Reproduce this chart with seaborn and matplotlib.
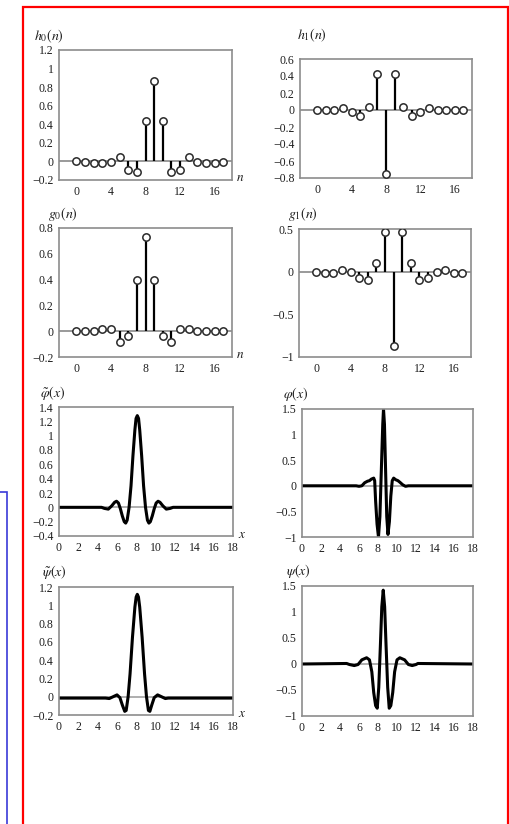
import numpy as np
import pandas as pd
import matplotlib
matplotlib.use("Agg")
import matplotlib.pyplot as plt
from matplotlib.patches import Rectangle
import seaborn as sns

# ---------------- data ----------------
n = list(range(18))
h0 = [0.0, -0.01, -0.02, -0.02, -0.01, 0.05, -0.09, -0.11, 0.44, 0.87,
      0.44, -0.11, -0.09, 0.05, -0.01, -0.02, -0.02, -0.01]
h1 = [0.0, 0.0, 0.0, 0.02, -0.02, -0.07, 0.04, 0.42, -0.75, 0.42,
      0.04, -0.07, -0.02, 0.02, 0.0, 0.0, 0.0, 0.0]
g0 = [0.0, 0.0, 0.0, 0.015, 0.015, -0.08, -0.04, 0.40, 0.73, 0.40,
      -0.04, -0.08, 0.015, 0.015, 0.0, 0.0, 0.0, 0.0]
g1 = [0.0, -0.02, -0.01, 0.02, 0.0, -0.08, -0.10, 0.10, 0.46, -0.87,
      0.46, 0.10, -0.10, -0.08, 0.0, 0.02, -0.01, -0.02]

phit_x = [0, 4.4, 4.7, 5.1, 5.45, 5.75, 5.95, 6.15, 6.35, 6.55, 6.75, 6.9, 7.05, 7.25,
          7.45, 7.65, 7.85, 7.97, 8.1, 8.23, 8.35, 8.55, 8.75, 8.95, 9.15, 9.3, 9.45,
          9.65, 9.85, 10.05, 10.25, 10.45, 10.75, 11.1, 11.5, 11.8, 18]
phit_y = [0, 0, -0.015, -0.025, 0.02, 0.07, 0.085, 0.06, -0.02, -0.12, -0.2, -0.22, -0.18, 0.0,
          0.3, 0.72, 1.08, 1.24, 1.28, 1.24, 1.08, 0.72, 0.3, 0.0, -0.18, -0.22, -0.2,
          -0.12, -0.02, 0.06, 0.085, 0.07, 0.02, -0.025, -0.015, 0, 0]

phi_x = [0, 5.7, 6.0, 6.3, 6.6, 6.9, 7.1, 7.3, 7.55, 7.65, 7.75, 7.9, 8.05, 8.2, 8.35, 8.5,
         8.58, 8.68, 8.8, 8.92, 9.05, 9.2, 9.35, 9.5, 9.65, 9.85, 10.1, 10.3, 10.6, 10.9, 11.2, 18]
phi_y = [0, 0, -0.01, 0.0, 0.06, 0.09, 0.10, 0.13, 0.15, 0.1, -0.3, -0.75, -1.0, -0.6, 0.3, 1.2,
         1.5, 1.2, 0.3, -0.6, -0.95, -0.7, -0.2, 0.1, 0.15, 0.12, 0.10, 0.07, 0.02, -0.01, 0, 0]

psit_x = [0, 4.8, 5.2, 5.6, 6.0, 6.3, 6.55, 6.8, 6.95, 7.15, 7.35, 7.6, 7.85, 7.98, 8.1, 8.22,
          8.35, 8.6, 8.85, 9.05, 9.25, 9.4, 9.6, 9.85, 10.2, 10.6, 11.0, 11.3, 18]
psit_y = [-0.015, -0.015, -0.02, 0.0, 0.02, -0.01, -0.09, -0.16, -0.15, 0.0, 0.25, 0.65, 0.98, 1.09, 1.12, 1.09,
          0.98, 0.65, 0.25, 0.0, -0.15, -0.16, -0.09, -0.01, 0.02, 0.0, -0.02, -0.015, -0.015]

psi_x = [0, 4.7, 5.0, 5.5, 5.9, 6.3, 6.8, 7.1, 7.35, 7.55, 7.75, 7.92, 8.08, 8.25, 8.4, 8.55,
         8.7, 8.85, 9.02, 9.18, 9.35, 9.55, 9.75, 10.0, 10.3, 10.8, 11.2, 11.6, 12.0, 12.2, 18]
psi_y = [0, 0.01, -0.01, -0.03, -0.01, 0.08, 0.12, 0.08, -0.15, -0.55, -0.8, -0.85, -0.45, 0.35, 1.1, 1.42,
         1.1, 0.35, -0.45, -0.85, -0.8, -0.55, -0.15, 0.08, 0.12, 0.08, -0.01, -0.03, -0.01, 0.01, 0]

# ---------------- style ----------------
sns.set_style("white")
plt.rcParams["font.family"] = ["Liberation Serif", "DejaVu Serif"]
plt.rcParams["mathtext.fontset"] = "stix"
plt.rcParams["axes.unicode_minus"] = True

W, H = 510, 824
fig = plt.figure(figsize=(W / 100, H / 100), dpi=100)

SPINE = "#8c8c8c"
TXT = "#1e1e1e"


def make_ax(l, t, r, b):
    ax = fig.add_axes([l / W, 1 - b / H, (r - l) / W, (b - t) / H])
    for s in ax.spines.values():
        s.set_color(SPINE)
        s.set_linewidth(1.2)
    ax.tick_params(direction="in", length=3, width=1.0, color=SPINE,
                   labelsize=8.5, labelcolor=TXT, pad=4)
    ax.tick_params(which="minor", direction="in", length=3, width=1.0, color=SPINE)
    return ax


def fmt(v):
    s = ("%g" % v)
    return s.replace("-", "\u2212")


def stem_panel(box, vals, ylim, yticks, title, title_xy, show_n):
    ax = make_ax(*box)
    ax.axhline(0, color="#9a9a9a", lw=1.4, zorder=1)
    ax.vlines(n, 0, vals, color="black", lw=1.6, zorder=2)
    df = pd.DataFrame({"n": n, "v": vals})
    sns.scatterplot(data=df, x="n", y="v", ax=ax, s=28, facecolor="white",
                    edgecolor="#2a2a2a", linewidth=1.1, zorder=3, legend=False)
    ax.set_xlim(-2, 18)
    ax.set_ylim(*ylim)
    ax.set_xticks([0, 4, 8, 12, 16])
    ax.set_xticks([2, 6, 10, 14, 18], minor=True)
    ax.set_yticks(yticks)
    ax.set_yticklabels([fmt(v) for v in yticks])
    ax.set_xlabel("")
    ax.set_ylabel("")
    fig.text(title_xy[0] / W, 1 - title_xy[1] / H, title, fontsize=10,
             color=TXT, ha="left", va="center")
    if show_n:
        fig.text((box[2] + 8) / W, 1 - (box[3] - 2) / H, "$n$", fontsize=9.5,
                 color=TXT, ha="center", va="center")
    return ax


def curve_panel(box, xs, ys, ylim, yticks, title, title_xy, show_x):
    ax = make_ax(*box)
    ax.axhline(0, color="#a8a8a8", lw=1.3, zorder=1)
    df = pd.DataFrame({"x": xs, "y": ys})
    sns.lineplot(data=df, x="x", y="y", ax=ax, color="black", lw=2.2,
                 estimator=None, sort=False, zorder=2)
    ax.set_xlim(0, 18)
    ax.set_ylim(*ylim)
    ax.set_xticks(list(range(0, 19, 2)))
    ax.set_yticks(yticks)
    ax.set_yticklabels([fmt(v) for v in yticks])
    ax.set_xlabel("")
    ax.set_ylabel("")
    fig.text(title_xy[0] / W, 1 - title_xy[1] / H, title, fontsize=10,
             color=TXT, ha="left", va="center")
    if show_x:
        fig.text((box[2] + 9) / W, 1 - (box[3] - 1) / H, "$x$", fontsize=9.5,
                 color=TXT, ha="center", va="center")
    return ax


stem_panel((59, 50, 232, 180), h0, (-0.2, 1.2), [-0.2, 0, 0.2, 0.4, 0.6, 0.8, 1, 1.2],
           r"$h_0(n)$", (34, 36), True)
stem_panel((300, 59, 472, 178), h1, (-0.8, 0.6), [-0.8, -0.6, -0.4, -0.2, 0, 0.2, 0.4, 0.6],
           r"$h_1(n)$", (297, 35), False)
stem_panel((59, 228, 232, 357), g0, (-0.2, 0.8), [-0.2, 0, 0.2, 0.4, 0.6, 0.8],
           r"$g_0(n)$", (48, 214), True)
stem_panel((299, 229, 471, 357), g1, (-1, 0.5), [-1, -0.5, 0, 0.5],
           r"$g_1(n)$", (288, 214), False)

curve_panel((59, 407, 233, 536), phit_x, phit_y, (-0.4, 1.4),
            [-0.4, -0.2, 0, 0.2, 0.4, 0.6, 0.8, 1, 1.2, 1.4],
            r"$\tilde{\varphi}(x)$", (40, 393), True)
curve_panel((302, 409, 473, 537), phi_x, phi_y, (-1, 1.5), [-1, -0.5, 0, 0.5, 1, 1.5],
            r"$\varphi(x)$", (283, 394), False)
curve_panel((59, 587, 233, 715), psit_x, psit_y, (-0.2, 1.2),
            [-0.2, 0, 0.2, 0.4, 0.6, 0.8, 1, 1.2],
            r"$\tilde{\psi}(x)$", (42, 572), True)
curve_panel((302, 586, 473, 716), psi_x, psi_y, (-1, 1.5), [-1, -0.5, 0, 0.5, 1, 1.5],
            r"$\psi(x)$", (286, 571), False)

# annotation boxes
fig.patches.append(Rectangle((23 / W, 1 - 830 / H), (508 - 23) / W, (830 - 7) / H,
                             transform=fig.transFigure, fill=False,
                             edgecolor="#ff0000", lw=1.6))
fig.patches.append(Rectangle((-10 / W, 1 - 835 / H), (7 + 10) / W, (835 - 492) / H,
                             transform=fig.transFigure, fill=False,
                             edgecolor="#3a3ad8", lw=1.2))

fig.savefig("out.png", dpi=100, facecolor="white")
